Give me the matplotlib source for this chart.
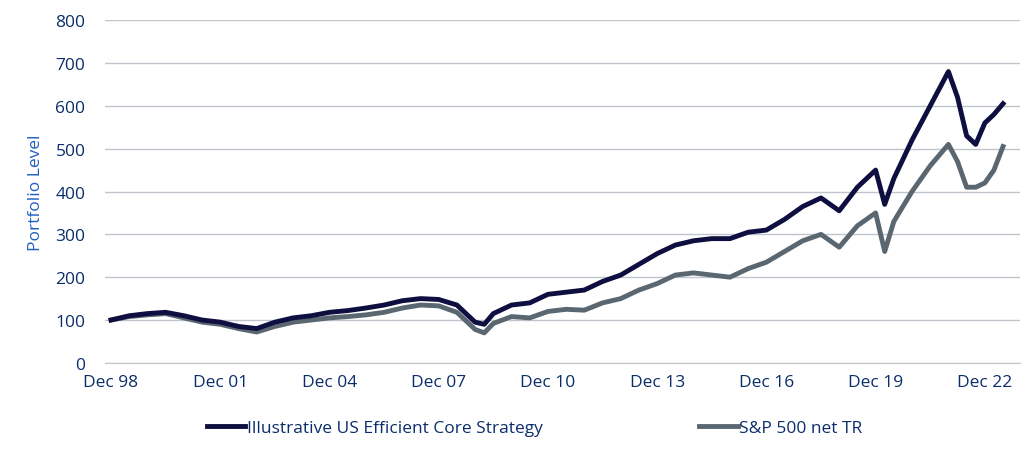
import matplotlib.pyplot as plt

plt.rcParams['font.family'] = ['Open Sans', 'DejaVu Sans']

# dates in decimal years (Dec 98 = 1998.92)
dates = [1998.92, 1999.42, 1999.92, 2000.42, 2000.92, 2001.42, 2001.92, 2002.42, 2002.92,
         2003.42, 2003.92, 2004.42, 2004.92, 2005.42, 2005.92, 2006.42, 2006.92, 2007.42,
         2007.92, 2008.42, 2008.92, 2009.17, 2009.42, 2009.92, 2010.42, 2010.92, 2011.42,
         2011.92, 2012.42, 2012.92, 2013.42, 2013.92, 2014.42, 2014.92, 2015.42, 2015.92,
         2016.42, 2016.92, 2017.42, 2017.92, 2018.42, 2018.92, 2019.42, 2019.92, 2020.17,
         2020.42, 2020.92, 2021.42, 2021.92, 2022.17, 2022.42, 2022.67, 2022.92, 2023.17, 2023.42]
core = [100, 110, 115, 118, 110, 100, 95, 85, 80, 95, 105, 110, 118, 122, 128, 135, 145, 150,
        148, 135, 95, 90, 115, 135, 140, 160, 165, 170, 190, 205, 230, 255, 275, 285, 290, 290,
        305, 310, 335, 365, 385, 355, 410, 450, 370, 430, 520, 600, 680, 620, 530, 510, 560, 580, 605]
spx = [100, 108, 112, 115, 105, 95, 90, 80, 72, 85, 95, 100, 105, 108, 112, 118, 128, 135,
       133, 118, 78, 70, 92, 108, 105, 120, 125, 123, 140, 150, 170, 185, 205, 210, 205, 200,
       220, 235, 260, 285, 300, 270, 320, 350, 260, 330, 400, 460, 510, 470, 410, 410, 420, 450, 505]
tick_labels = ['Dec 98', 'Dec 01', 'Dec 04', 'Dec 07', 'Dec 10', 'Dec 13', 'Dec 16', 'Dec 19', 'Dec 22']
tick_pos = [1998.92 + 3 * i for i in range(len(tick_labels))]

blue = '#0b2d6b'
fig, ax = plt.subplots(figsize=(10.28, 4.6), dpi=100)
fig.subplots_adjust(left=0.102, right=0.992, top=0.954, bottom=0.209)

ax.plot(dates, core, color='#0e0e40', lw=3.5, label='Illustrative US Efficient Core Strategy', zorder=3)
ax.plot(dates, spx, color='#5b6770', lw=3.5, label='S&P 500 net TR', zorder=2)

ax.set_ylim(0, 800)
ax.set_yticks(range(0, 801, 100))
ax.set_xlim(1998.75, 2023.88)
ax.set_xticks(tick_pos)
ax.set_xticklabels(tick_labels)
ax.tick_params(colors=blue, labelsize=12.5, length=0)
ax.tick_params(axis='y', pad=14)
ax.tick_params(axis='x', pad=8)
ax.grid(axis='y', color='#c0c4cc', lw=1)
for s in ['top', 'right', 'left']:
    ax.spines[s].set_visible(False)
ax.spines['bottom'].set_color('#c0c4cc')
ax.set_ylabel('Portfolio Level', color='#1f5fbf', fontsize=12.5, labelpad=8)

ax.legend(loc='upper center', bbox_to_anchor=(0.47, -0.12), ncol=2, frameon=False,
          fontsize=12.5, labelcolor=blue, columnspacing=9, handlelength=2.2, handletextpad=0.1)

fig.savefig('out.png')
